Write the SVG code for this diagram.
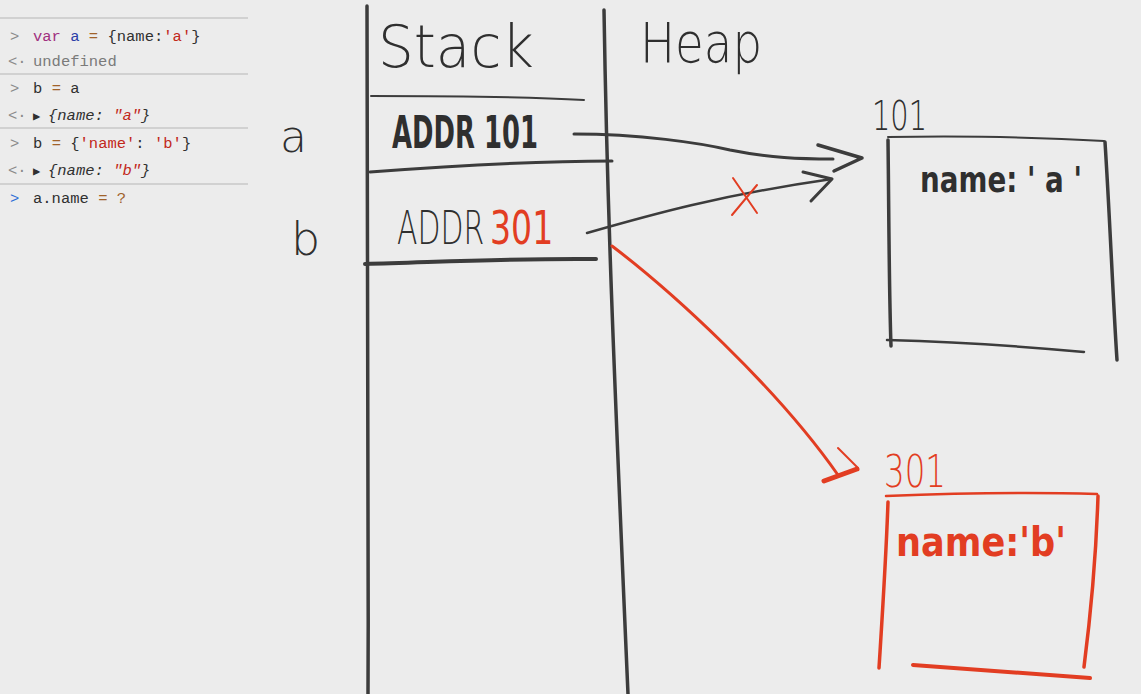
<svg xmlns="http://www.w3.org/2000/svg" width="1141" height="694" viewBox="0 0 1141 694">
<style>
.bg{fill:#ececec}
.ink{fill:none;stroke:#3c3c3c;stroke-linecap:round;stroke-linejoin:round}
.red{fill:none;stroke:#e23d22;stroke-linecap:round;stroke-linejoin:round}
.hw{font-family:"DejaVu Sans","Liberation Sans",sans-serif;fill:#2f2f2f}
.hwr{font-family:"DejaVu Sans","Liberation Sans",sans-serif;fill:#e23d22}
.con{font-family:"Liberation Mono","DejaVu Sans Mono",monospace;font-size:15.5px;fill:#303030}
.sep{stroke:#c8c8c8;stroke-width:1.5}
.pr{fill:#8a8a8a}
.kw{fill:#a0307f}
.vr{fill:#2c3fa8}
.op{fill:#a0622a}
.st{fill:#c2281b}
.gy{fill:#7a7a7a}
</style>
<rect class="bg" x="0" y="0" width="1141" height="694"/>

<g id="console">
<line class="sep" x1="0" y1="18" x2="248" y2="18"/>
<line class="sep" x1="0" y1="74" x2="248" y2="74"/>
<line class="sep" x1="0" y1="128" x2="248" y2="128"/>
<line class="sep" x1="0" y1="184" x2="248" y2="184"/>
<text class="con" y="41"><tspan x="10" class="pr">&gt;</tspan><tspan x="33" class="kw">var</tspan> <tspan class="vr">a</tspan> <tspan class="op">=</tspan> {name:<tspan class="st">'a'</tspan>}</text>
<text class="con" y="66"><tspan x="8" class="pr">&lt;·</tspan><tspan x="33" class="gy">undefined</tspan></text>
<text class="con" y="93"><tspan x="10" class="pr">&gt;</tspan><tspan x="33">b</tspan> <tspan class="op">=</tspan> a</text>
<text class="con" y="120"><tspan x="8" class="pr">&lt;·</tspan><tspan x="33" style="font-size:12px">▶</tspan><tspan x="48" font-style="italic">{name: <tspan class="st">"a"</tspan>}</tspan></text>
<text class="con" y="148"><tspan x="10" class="pr">&gt;</tspan><tspan x="33">b</tspan> <tspan class="op">=</tspan> {<tspan class="st">'name'</tspan>: <tspan class="st">'b'</tspan>}</text>
<text class="con" y="175"><tspan x="8" class="pr">&lt;·</tspan><tspan x="33" style="font-size:12px">▶</tspan><tspan x="48" font-style="italic">{name: <tspan class="st">"b"</tspan>}</tspan></text>
<text class="con" y="203"><tspan x="10" fill="#2f6fd6">&gt;</tspan><tspan x="33">a.name</tspan> <tspan class="op">=</tspan> <tspan class="op">?</tspan></text>
</g>

<g id="stack">
<path class="ink" stroke-width="3.5" d="M367,6 C367,200 369,450 368,694"/>
<path class="ink" stroke-width="3.5" d="M604,10 C607,200 613,350 628,694"/>
<text class="hw" x="378" y="67" font-size="58" font-weight="300" textLength="156" lengthAdjust="spacingAndGlyphs">Stack</text>
<path class="ink" stroke-width="2" d="M371,96 C450,96 530,97 584,100"/>
<text class="hw" x="392" y="148" font-size="44" font-weight="bold" textLength="146" lengthAdjust="spacingAndGlyphs">ADDR 101</text>
<path class="ink" stroke-width="3" d="M370,172 C450,166 540,161 612,161"/>
<text class="hw" transform="translate(397,244) scale(0.65,1)" x="0" y="0" font-size="46" font-weight="300">ADDR</text>
<text class="hwr" transform="translate(490,244) scale(0.72,1)" x="0" y="0" font-size="46">301</text>
<path class="ink" stroke-width="4" d="M365,264 C440,262 520,258 596,259"/>
</g>

<g id="vars">
<text class="hw" x="280" y="152" font-size="44" font-weight="300">a</text>
<text class="hw" x="291" y="255" font-size="46" font-weight="300">b</text>
</g>

<g id="heap">
<text class="hw" x="640" y="62" font-size="56" font-weight="300" textLength="122" lengthAdjust="spacingAndGlyphs">Heap</text>
</g>

<g id="obj101">
<text class="hw" x="872" y="130" font-size="40" font-weight="300" textLength="55" lengthAdjust="spacingAndGlyphs">101</text>
<path class="ink" stroke-width="2" d="M888,137 C960,136 1040,137 1104,141"/>
<path class="ink" stroke-width="3.5" d="M888,140 C889,220 889,290 891,346"/>
<path class="ink" stroke-width="2.5" d="M887,340 C960,342 1030,347 1084,352"/>
<path class="ink" stroke-width="3.5" d="M1105,142 C1110,220 1113,300 1117,360"/>
<text class="hw" x="920" y="192" font-size="36" font-weight="bold" textLength="162" lengthAdjust="spacingAndGlyphs">name: ' a '</text>
</g>

<g id="obj301">
<text class="hwr" x="884" y="487" font-size="44" font-weight="300" textLength="62" lengthAdjust="spacingAndGlyphs">301</text>
<path class="red" stroke-width="2.5" d="M886,496 C960,493 1030,492 1097,494"/>
<path class="red" stroke-width="3.5" d="M888,502 C886,560 882,620 879,668"/>
<path class="red" stroke-width="3.5" d="M1098,496 C1096,560 1090,620 1084,667"/>
<path class="red" stroke-width="4" d="M913,665 C980,670 1040,674 1090,678"/>
<text class="hwr" x="896" y="556" font-size="40" font-weight="bold" textLength="170" lengthAdjust="spacingAndGlyphs">name:'b'</text>
</g>

<g id="connectors">
<path class="ink" stroke-width="3" d="M574,134 C640,134 700,143 730,150 C770,158 800,159 833,159"/>
<path class="ink" stroke-width="3.5" d="M818,145 L862,158 L834,171"/>
<path class="ink" stroke-width="2.5" d="M587,233 C650,215 720,195 832,179"/>
<path class="ink" stroke-width="3" d="M803,172 L832,179 L811,201"/>
<path class="red" stroke-width="2" d="M733,178 L757,213 M732,215 L757,185"/>
<path class="red" stroke-width="3" d="M612,246 C670,290 775,385 838,475"/>
<path class="red" stroke-width="5" d="M824,481 L857,469"/>
<path class="red" stroke-width="2" d="M838,448 L858,468"/>
</g>
</svg>
